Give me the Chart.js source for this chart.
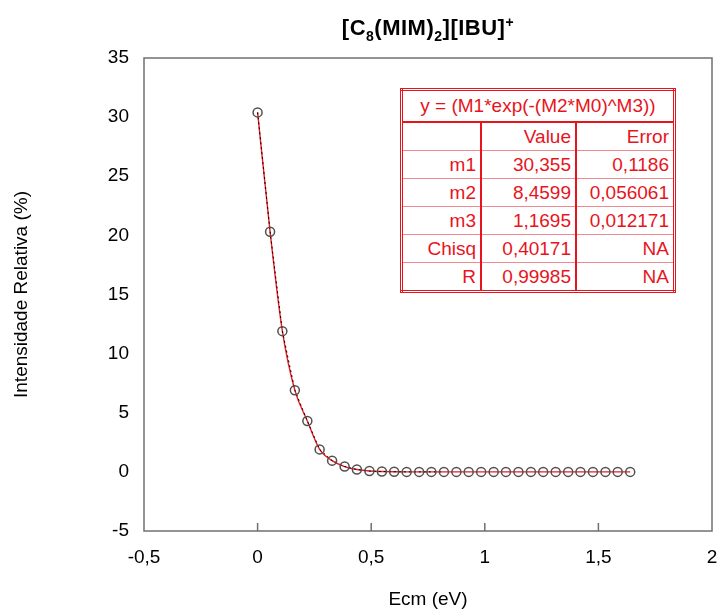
<!DOCTYPE html>
<html>
<head>
<meta charset="utf-8">
<script src="https://cdn.jsdelivr.net/npm/chart.js@4.4.1/dist/chart.umd.min.js"></script>
<style>
  body { margin: 0; background: #fff; font-family: "Liberation Sans", Arial, sans-serif; }
  #wrap { position: relative; width: 720px; height: 611px; }
  #titulo { position: absolute; left: 228px; width: 400px; top: 14px; text-align: center;
    font-weight: bold; font-size: 22px; color: #000; letter-spacing: 0.5px; }
  #titulo sub, #titulo sup { font-size: 14px; }
  #tabla { position: absolute; left: 400px; top: 88px; border: 3px double #e8141c;
    border-collapse: collapse; color: #e8141c; font-size: 19px; background: #fff; }
  #tabla td { height: 27px; padding: 0 4px; text-align: right; border-top: 1px solid #f08a8e;
    border-left: 2px solid #e8141c; white-space: nowrap; }
  #tabla td:first-child { border-left: none; }
  #tabla tr.cab td { text-align: center; border-top: none; border-bottom: 2px solid #e8141c; height: 30px; }
</style>
</head>
<body>
<div id="wrap">
  <canvas id="chartEnergia" width="720" height="611"></canvas>
  <div id="titulo">[C<sub>8</sub>(MIM)<sub>2</sub>][IBU]<sup>+</sup></div>
  <table id="tabla">
    <tr class="cab"><td colspan="3">y = (M1*exp(-(M2*M0)^M3))</td></tr>
    <tr><td style="width:69px"></td><td style="width:85px">Value</td><td style="width:88px">Error</td></tr>
    <tr><td>m1</td><td>30,355</td><td>0,1186</td></tr>
    <tr><td>m2</td><td>8,4599</td><td>0,056061</td></tr>
    <tr><td>m3</td><td>1,1695</td><td>0,012171</td></tr>
    <tr><td>Chisq</td><td>0,40171</td><td>NA</td></tr>
    <tr><td>R</td><td>0,99985</td><td>NA</td></tr>
  </table>
</div>
<script>
// energia de colision (eV)
const ecm = [0, 0.055, 0.109, 0.164, 0.219, 0.273, 0.328, 0.383, 0.437, 0.492,
  0.547, 0.601, 0.656, 0.711, 0.765, 0.820, 0.875, 0.929, 0.984, 1.039,
  1.093, 1.148, 1.203, 1.257, 1.312, 1.367, 1.421, 1.476, 1.531, 1.585, 1.640];
// intensidad relativa (%)
const intensidad = [30.4, 20.3, 11.9, 6.9, 4.3, 1.9, 0.95, 0.45, 0.2, 0.07,
  0.03, 0.01, 0, 0, 0, 0, 0, 0, 0, 0,
  0, 0, 0, 0, 0, 0, 0, 0, 0, 0, 0];
const ticksX = [-0.5, 0, 0.5, 1, 1.5, 2];
const ticksY = [-5, 0, 5, 10, 15, 20, 25, 30, 35];

const puntos = ecm.map((x, i) => ({ x: x, y: intensidad[i] }));
const coma = (v) => String(v).replace(".", ",");
const fuente = { family: "Liberation Sans", size: 19 };

// marco del grafico y marcas interiores del eje x
const marco = {
  id: "marco",
  afterDraw(chart) {
    const c = chart.ctx;
    const a = chart.chartArea;
    const sx = chart.scales.x;
    c.save();
    c.strokeStyle = "#707070";
    c.lineWidth = 1.5;
    c.strokeRect(a.left, a.top, a.right - a.left, a.bottom - a.top);
    c.beginPath();
    ticksX.slice(1, -1).forEach((t) => {
      const px = sx.getPixelForValue(t);
      c.moveTo(px, a.bottom);
      c.lineTo(px, a.bottom - 8);
    });
    c.stroke();
    c.restore();
  },
};

const ctx = document.getElementById("chartEnergia");
new Chart(ctx, {
  type: "scatter",
  data: {
    datasets: [
      {
        label: "datos",
        data: puntos,
        showLine: true,
        borderColor: "#000",
        borderWidth: 1,
        borderDash: [2, 3],
        segment: {
          borderColor: (s) => (s.p0DataIndex >= 15 ? "rgba(0,0,0,0)" : "#000"),
        },
        pointStyle: "circle",
        pointRadius: 4.5,
        pointBorderWidth: 1.5,
        pointBorderColor: "#505050",
        pointBackgroundColor: "rgba(255,255,255,0)",
      },
      {
        label: "ajuste",
        data: puntos,
        showLine: true,
        borderColor: "#f01c24",
        borderWidth: 1.4,
        cubicInterpolationMode: "monotone",
        pointRadius: 0,
      },
    ],
  },
  options: {
    responsive: false,
    animation: false,
    layout: { padding: { top: 58, right: 8, left: 0, bottom: 0 } },
    plugins: {
      legend: { display: false },
      tooltip: { enabled: false },
    },
    scales: {
      x: {
        type: "linear",
        min: -0.5,
        max: 2,
        afterBuildTicks: (s) => { s.ticks = ticksX.map((v) => ({ value: v })); },
        afterFit: (s) => { s.height = 80; s.paddingLeft = 0; s.paddingRight = 0; },
        grid: { display: false, drawTicks: false },
        border: { display: false },
        ticks: {
          padding: 15,
          color: "#000",
          font: fuente,
          callback: (v) => coma(v),
        },
        title: {
          display: true,
          text: "Ecm (eV)",
          color: "#000",
          font: fuente,
          padding: { top: 0, bottom: 0 },
        },
      },
      y: {
        type: "linear",
        min: -5,
        max: 35,
        afterBuildTicks: (s) => { s.ticks = ticksY.map((v) => ({ value: v })); },
        afterFit: (s) => { s.width = 144; s.paddingTop = 0; s.paddingBottom = 0; },
        grid: { display: false, drawTicks: false },
        border: { display: false },
        ticks: {
          padding: 15,
          color: "#000",
          font: fuente,
          callback: (v) => coma(v),
        },
        title: {
          display: true,
          text: "Intensidade Relativa (%)",
          color: "#000",
          font: fuente,
          padding: { top: 10, bottom: 0 },
        },
      },
    },
  },
  plugins: [marco],
});
</script>
</body>
</html>
